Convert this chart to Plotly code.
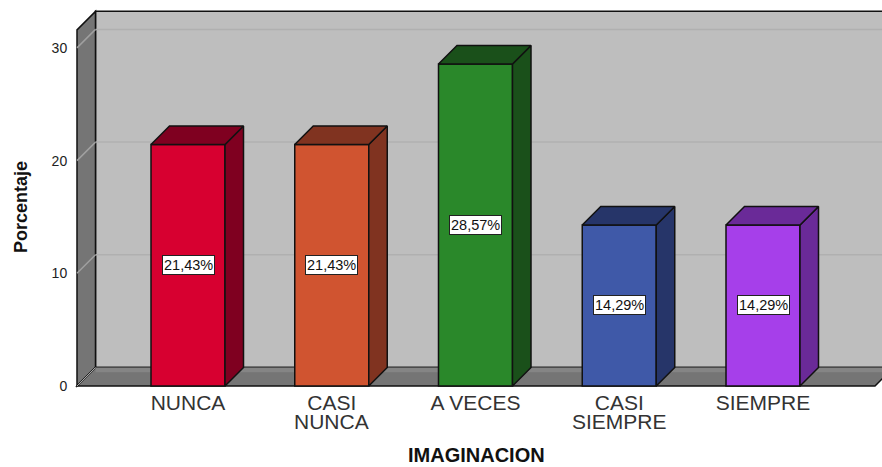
import plotly.graph_objects as go

categories = ["NUNCA", "CASI\nNUNCA", "A VECES", "CASI\nSIEMPRE", "SIEMPRE"]
values = [21.43, 21.43, 28.57, 14.29, 14.29]
labels = ["21,43%", "21,43%", "28,57%", "14,29%", "14,29%"]
front_colors = ["#D70030", "#D05430", "#2A882A", "#3F59A8", "#A63FEA"]
side_colors = ["#7F0020", "#803320", "#1A501A", "#263569", "#6A2A98"]
top_colors = ["#7F0020", "#803320", "#1A501A", "#263569", "#6A2A98"]
y_ticks = [0, 10, 20, 30]

# pixel scale of the reference
PX_X = 143.75   # pixels per category
PX_Y = 11.27    # pixels per percent
DX = 18.5 / PX_X  # oblique depth in data units
DY = 18.5 / PX_Y
BAR_W = 74 / PX_X
WIDTH, HEIGHT = 882, 467
LEFT, BOTTOM, TOP = 74, 389, 8
X0_PX, Y0_PX = 188.0, 386.0
XMIN = (LEFT - X0_PX) / PX_X
XMAX = (WIDTH - X0_PX) / PX_X
YMIN = (Y0_PX - BOTTOM) / PX_Y
YMAX = (Y0_PX - TOP) / PX_Y
WALL_X = (77 - X0_PX) / PX_X
WALL_END = (875 - X0_PX) / PX_X
WALL_TOP = 31.6

fig = go.Figure()


def poly(points, fill, line="#111111", width=1.5):
    path = "M " + " L ".join(f"{x},{y}" for x, y in points) + " Z"
    return dict(type="path", path=path, xref="x", yref="y", layer="below",
                fillcolor=fill, line=dict(color=line, width=width))


shapes = [
    # back wall
    poly([(WALL_X + DX, DY), (XMAX + 1, DY), (XMAX + 1, WALL_TOP + DY), (WALL_X + DX, WALL_TOP + DY)], "#BEBEBE"),
    # side wall
    poly([(WALL_X, 0), (WALL_X + DX, DY), (WALL_X + DX, WALL_TOP + DY), (WALL_X, WALL_TOP)], "#757575"),
    # floor
    poly([(WALL_X, 0), (WALL_END, 0), (WALL_END + DX, DY), (WALL_X + DX, DY)], "#757575"),
    # lighter band on the floor
    dict(type="rect", xref="x", yref="y", layer="below", x0=WALL_X + DX, x1=XMAX + 1,
         y0=DY * 0.75, y1=DY, fillcolor="#858585", line=dict(width=0)),
    dict(type="line", xref="x", yref="y", layer="below", x0=WALL_X, y0=0, x1=WALL_X + DX, y1=DY,
         line=dict(color="#A8A8A8", width=1)),
]
for t in y_ticks[1:]:
    shapes.append(dict(type="line", xref="x", yref="y", layer="below",
                       x0=WALL_X + DX, x1=XMAX + 1, y0=t + DY, y1=t + DY,
                       line=dict(color="#B0B0B0", width=1.5)))
    shapes.append(dict(type="line", xref="x", yref="y", layer="below",
                       x0=WALL_X, x1=WALL_X + DX, y0=t, y1=t + DY,
                       line=dict(color="#A0A0A0", width=1.5)))

xs = list(range(len(categories)))

fig.add_trace(go.Bar(
    x=xs, y=values, width=BAR_W,
    marker=dict(color=front_colors, line=dict(color="#111111", width=1.5)),
    hoverinfo="skip", showlegend=False,
))

for i, v in zip(xs, values):
    l, r = i - BAR_W / 2, i + BAR_W / 2
    fig.add_trace(go.Scatter(
        x=[r, r + DX, r + DX, r, r], y=[0, DY, v + DY, v, 0],
        mode="lines", fill="toself", fillcolor=side_colors[i],
        line=dict(color="#111111", width=1.5), hoverinfo="skip", showlegend=False,
    ))
    fig.add_trace(go.Scatter(
        x=[l, r, r + DX, l + DX, l], y=[v, v, v + DY, v + DY, v],
        mode="lines", fill="toself", fillcolor=top_colors[i],
        line=dict(color="#111111", width=1.5), hoverinfo="skip", showlegend=False,
    ))

annotations = []
for i, v in zip(xs, values):
    annotations.append(dict(
        x=i, y=v / 2, xref="x", yref="y", text=labels[i], showarrow=False,
        font=dict(family="Liberation Sans", size=14.5, color="#111111"),
        bgcolor="white", bordercolor="#222222", borderwidth=1, borderpad=1,
    ))

first_lines = []
for i, c in enumerate(categories):
    parts = c.split("\n")
    first_lines.append(parts[0])
    if len(parts) > 1:
        annotations.append(dict(
            x=i, y=0, xref="x", yref="y", yanchor="top", yshift=-22, text=parts[1], showarrow=False,
            font=dict(family="Liberation Sans", size=21, color="#333333"),
        ))

annotations.append(dict(
    x=(476 - LEFT) / (WIDTH - LEFT), y=(BOTTOM - 454.5) / (BOTTOM - TOP), xref="paper", yref="paper",
    xanchor="center", yanchor="middle", text="<b>IMAGINACION</b>", showarrow=False,
    font=dict(family="Liberation Sans", size=20, color="#111111"),
))
annotations.append(dict(
    x=(21 - LEFT) / (WIDTH - LEFT), y=(Y0_PX - 207) / PX_Y, xref="paper", yref="y",
    xanchor="center", yanchor="middle",
    text="<b>Porcentaje</b>", textangle=-90, showarrow=False,
    font=dict(family="Liberation Sans Narrow, Liberation Sans", size=18, color="#111111"),
))

fig.update_layout(
    width=WIDTH, height=HEIGHT, autosize=False,
    margin=dict(l=LEFT, r=0, t=TOP, b=HEIGHT - BOTTOM, pad=0),
    paper_bgcolor="white", plot_bgcolor="white", showlegend=False,
    shapes=shapes, annotations=annotations, barmode="overlay",
    xaxis=dict(range=[XMIN, XMAX], tickmode="array", tickvals=xs, ticktext=first_lines,
               showgrid=False, zeroline=False, showline=False, ticks="", ticklabelstandoff=-1,
               fixedrange=True,
               tickfont=dict(family="Liberation Sans", size=21, color="#333333")),
    yaxis=dict(range=[YMIN, YMAX], tickmode="array", tickvals=y_ticks,
               showgrid=False, zeroline=False, showline=False, ticks="outside", ticklen=3,
               tickcolor="rgba(0,0,0,0)", fixedrange=True,
               tickfont=dict(family="Liberation Sans", size=14, color="#222222")),
)

fig.write_html("out.html", config=dict(displayModeBar=False),
               post_script="document.body.style.margin='0';document.documentElement.style.overflow='hidden';")
